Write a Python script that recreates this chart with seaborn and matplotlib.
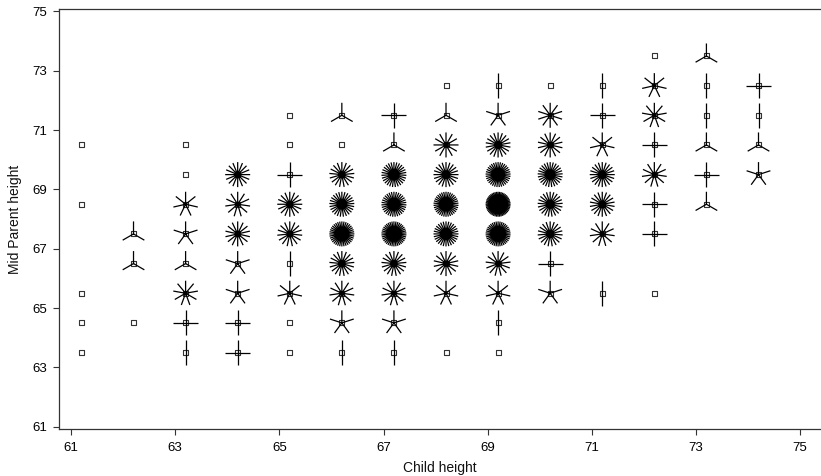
import numpy as np
import pandas as pd
import matplotlib
matplotlib.use("Agg")
import matplotlib.pyplot as plt
import seaborn as sns
from matplotlib.path import Path

# Galton table: child height columns, mid-parent height rows
child_height = [61.2, 62.2, 63.2, 64.2, 65.2, 66.2, 67.2, 68.2, 69.2, 70.2, 71.2, 72.2, 73.2, 74.2]
parent_height = [73.5, 72.5, 71.5, 70.5, 69.5, 68.5, 67.5, 66.5, 65.5, 64.5, 63.5]
counts_73_5 = [0, 0, 0, 0, 0, 0, 0, 0, 0, 0, 0, 1, 3, 0]
counts_72_5 = [0, 0, 0, 0, 0, 0, 0, 1, 2, 1, 2, 7, 2, 4]
counts_71_5 = [0, 0, 0, 0, 1, 3, 4, 3, 5, 10, 4, 9, 2, 2]
counts_70_5 = [1, 0, 1, 0, 1, 1, 3, 12, 18, 14, 7, 4, 3, 3]
counts_69_5 = [0, 0, 1, 16, 4, 17, 27, 20, 33, 25, 20, 11, 4, 5]
counts_68_5 = [1, 0, 7, 11, 16, 25, 31, 34, 48, 21, 18, 4, 3, 0]
counts_67_5 = [0, 3, 5, 14, 15, 36, 38, 28, 38, 19, 11, 4, 0, 0]
counts_66_5 = [0, 3, 3, 5, 2, 17, 17, 14, 13, 4, 0, 0, 0, 0]
counts_65_5 = [1, 0, 9, 5, 7, 11, 11, 7, 7, 5, 2, 1, 0, 0]
counts_64_5 = [1, 1, 4, 4, 1, 5, 5, 0, 2, 0, 0, 0, 0, 0]
counts_63_5 = [1, 0, 2, 4, 1, 2, 2, 1, 1, 0, 0, 0, 0, 0]

x_ticks = [61, 63, 65, 67, 69, 71, 73, 75]
y_ticks = [61, 63, 65, 67, 69, 71, 73, 75]

rows = [counts_73_5, counts_72_5, counts_71_5, counts_70_5, counts_69_5, counts_68_5,
        counts_67_5, counts_66_5, counts_65_5, counts_64_5, counts_63_5]
records = []
for ph, row in zip(parent_height, rows):
    for ch, n in zip(child_height, row):
        if n > 0:
            records.append({"child": ch, "parent": ph, "n": n})
df = pd.DataFrame(records)

sns.set_style("ticks")
plt.rcParams["font.family"] = ["Liberation Sans", "DejaVu Sans"]

fig = plt.figure(figsize=(8.21, 4.76), dpi=100)
ax = fig.add_axes([59.3 / 821, (476 - 429.3) / 476, 1 - 59.3 / 821, (429.3 - 9) / 476])


def spokes(n):
    ang = np.pi / 2 + 2 * np.pi * np.arange(n) / n
    verts, codes = [], []
    for a in ang:
        verts += [(0, 0), (np.cos(a), np.sin(a))]
        codes += [Path.MOVETO, Path.LINETO]
    return Path(verts, codes)


# centre squares (underneath the petals)
sq_pt = 5.0 * 72 / 100
sns.scatterplot(data=df, x="child", y="parent", marker="s", s=sq_pt ** 2,
                color="none", edgecolor="#333333", linewidth=0.8, ax=ax, zorder=2,
                legend=False)
ax.collections[-1].set_facecolor("none")

petal_px = 12.5
msize_pt = 2 * petal_px * 72 / 100
for n in sorted(df["n"].unique()):
    if n < 2:
        continue
    sub = df[df["n"] == n]
    sns.scatterplot(data=sub, x="child", y="parent", marker=spokes(n), s=msize_pt ** 2,
                    color="black", edgecolor="black", linewidth=0.9, ax=ax, zorder=3,
                    legend=False)
    ax.collections[-1].set_facecolor("none")

ax.set_xlim(60.775, 75.40)
ax.set_ylim(60.912, 75.084)
ax.set_xticks(x_ticks)
ax.set_yticks(y_ticks)
ax.set_xticklabels([str(t) for t in x_ticks])
ax.set_yticklabels([str(t) for t in y_ticks])
ax.set_xlabel("Child height", fontsize=10, color="#111111", labelpad=5)
ax.set_ylabel("Mid Parent height", fontsize=10, color="#111111", labelpad=7)
ax.tick_params(axis="both", direction="out", length=4, width=0.8, labelsize=9.5,
               colors="#333333", labelcolor="#000000", pad=5)
for side in ["left", "bottom", "top"]:
    ax.spines[side].set_visible(True)
    ax.spines[side].set_color("#333333")
    ax.spines[side].set_linewidth(0.9)
ax.spines["right"].set_visible(False)
ax.set_facecolor("white")
fig.patch.set_facecolor("white")

fig.savefig("out.png", dpi=100)
